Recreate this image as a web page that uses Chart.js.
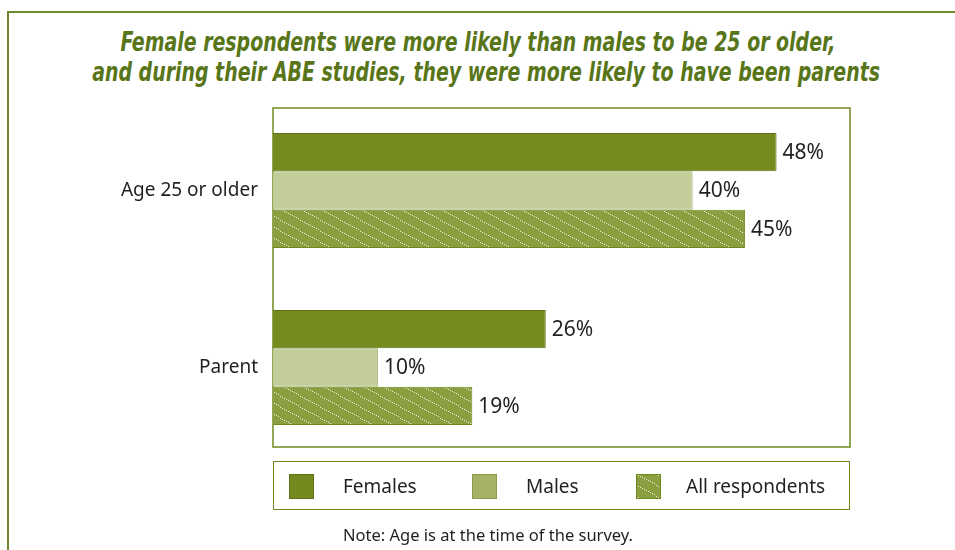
<!DOCTYPE html>
<html>
<head>
<meta charset="utf-8">
<script src="https://cdn.jsdelivr.net/npm/chart.js@4/dist/chart.umd.min.js"></script>
<style>
  html, body { margin:0; padding:0; background:#fff; }
  body { width:955px; height:550px; position:relative; overflow:hidden; font-family:"Noto Sans", sans-serif; color:#231f20; }
  .frame-top { position:absolute; left:7px; top:11px; width:948px; height:0; border-top:2px solid #6f8a2a; }
  .frame-left { position:absolute; left:7px; top:11px; width:0; height:539px; border-left:2px solid #6f8a2a; }
  .title { position:absolute; left:-200px; top:27px; width:1356px; text-align:center; white-space:nowrap;
           font-family:"DejaVu Sans Condensed",sans-serif; font-weight:bold; font-style:italic;
           font-size:26px; line-height:30px; color:#587619;
           transform:scaleX(0.81); transform-origin:678px 0; }
  .title span { position:relative; left:10px; }
  #wrap { position:absolute; left:0; top:0; width:955px; height:550px; }
  .legend { position:absolute; left:273px; top:461px; width:575px; height:47px; border:1.5px solid #6e8a1e; }
  .item { position:absolute; top:11px; display:flex; align-items:center; font-size:19px; }
  .item canvas { display:block; }
  .note { position:absolute; left:0; width:976px; top:523px; text-align:center; font-size:16.5px; }
</style>
</head>
<body>
<div class="frame-top"></div>
<div class="frame-left"></div>
<div class="title">Female respondents were more likely than males to be 25 or older,<br><span>and during their ABE studies, they were more likely to have been parents</span></div>
<div id="wrap"><canvas id="chart"></canvas></div>
<div class="legend">
  <div class="item" style="left:15px"><canvas id="sw0" width="25" height="25"></canvas><span style="margin-left:29px">Females</span></div>
  <div class="item" style="left:198px"><canvas id="sw1" width="25" height="25"></canvas><span style="margin-left:29px">Males</span></div>
  <div class="item" style="left:362px"><canvas id="sw2" width="25" height="25"></canvas><span style="margin-left:25px">All respondents</span></div>
</div>
<div class="note">Note: Age is at the time of the survey.</div>
<script>
const categories = ['Age 25 or older', 'Parent'];
const seriesNames = ['Females', 'Males', 'All respondents'];
const females = [48, 26];
const males = [40, 10];
const allRespondents = [45, 19];

// diagonal dotted hatch used for the "All respondents" series
function hatch(base) {
  const c = document.createElement('canvas');
  c.width = 20; c.height = 11;
  const g = c.getContext('2d');
  g.fillStyle = base;
  g.fillRect(0, 0, 20, 11);
  g.fillStyle = 'rgba(255,255,255,0.85)';
  for (let i = 0; i < 20; i += 2) {
    const y = Math.floor(i * 11 / 20);
    g.fillRect(i, y, 1, 1);
  }
  return g.createPattern(c, 'repeat');
}

const hatchFill = hatch('#8c9f40');

function swatch(id, fill, border) {
  const g = document.getElementById(id).getContext('2d');
  g.fillStyle = fill;
  g.fillRect(0, 0, 25, 25);
  g.strokeStyle = border;
  g.lineWidth = 1;
  g.strokeRect(0.5, 0.5, 24, 24);
}
swatch('sw0', '#748a1e', '#5e7318');
swatch('sw1', '#a5b366', '#8a9a4a');
swatch('sw2', hatch('#8c9f40'), '#6e8a1e');

const plotBox = {
  id: 'plotBox',
  beforeDatasetsDraw(chart) {
    const a = chart.chartArea, ctx = chart.ctx;
    ctx.save();
    ctx.strokeStyle = '#6e8a1e';
    ctx.lineWidth = 1.5;
    ctx.strokeRect(a.left, a.top + 6, a.right - a.left, a.bottom - a.top - 15);
    ctx.restore();
  }
};

const valueLabels = {
  id: 'valueLabels',
  afterDatasetsDraw(chart) {
    const ctx = chart.ctx;
    ctx.save();
    ctx.font = '21px "Noto Sans"';
    ctx.fillStyle = '#231f20';
    ctx.textAlign = 'left';
    ctx.textBaseline = 'middle';
    chart.data.datasets.forEach((ds, di) => {
      chart.getDatasetMeta(di).data.forEach((bar, i) => {
        ctx.fillText(ds.data[i] + '%', bar.x + 6, bar.y + 1);
      });
    });
    ctx.restore();
  }
};

new Chart(document.getElementById('chart'), {
  type: 'bar',
  data: {
    labels: categories,
    datasets: [
      { label: seriesNames[0], data: females, backgroundColor: '#758b1d', borderColor: '#5e7318', borderWidth: 1 },
      { label: seriesNames[1], data: males, backgroundColor: '#c3cd9a', borderColor: '#9fb06a', borderWidth: 1 },
      { label: seriesNames[2], data: allRespondents, backgroundColor: hatchFill, borderColor: '#6e8a1e', borderWidth: 1 }
    ]
  },
  options: {
    indexAxis: 'y',
    responsive: true,
    maintainAspectRatio: false,
    animation: false,
    categoryPercentage: 0.65,
    barPercentage: 1,
    layout: { padding: { left: 0, right: 105, top: 102, bottom: 94 } },
    plugins: { legend: { display: false }, tooltip: { enabled: false } },
    scales: {
      x: { display: false, min: 0, max: 55 },
      y: {
        grid: { display: false, drawTicks: false },
        border: { display: false },
        ticks: { color: '#231f20', font: { family: 'Noto Sans', size: 19 }, padding: 15 },
        afterFit(scale) { scale.width = 273; }
      }
    }
  },
  plugins: [plotBox, valueLabels]
});
</script>
</body>
</html>
